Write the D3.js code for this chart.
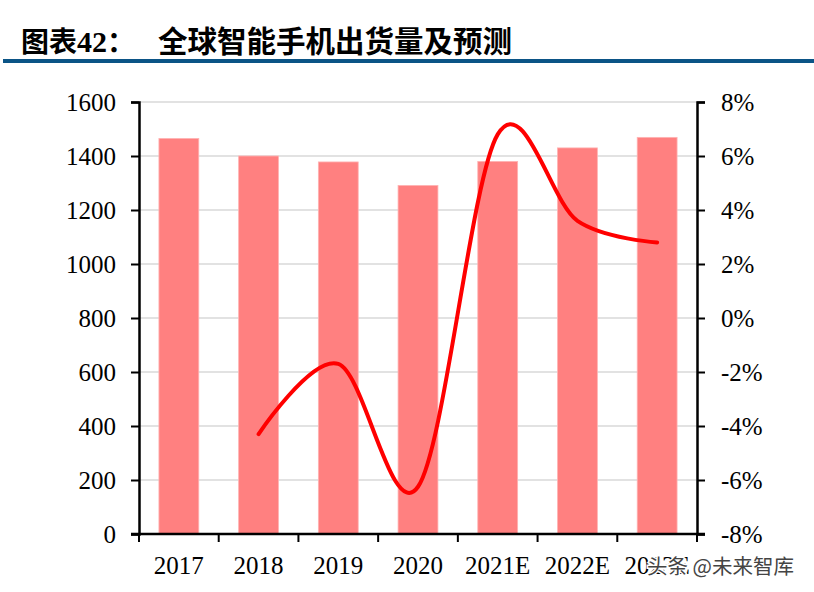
<!DOCTYPE html>
<meta charset="utf-8">
<style>
  body { margin: 0; background: #fff; }
  .tick text { font-family: "Liberation Serif", "Times New Roman", serif; font-size: 25px; fill: #000; }
</style>
<script src="https://cdn.jsdelivr.net/npm/d3@7"></script>
<div id="chart"></div>
<script>
// data
var years = ["2017", "2018", "2019", "2020", "2021E", "2022E", "2023E"];
var shipments = [1465, 1400, 1378, 1291, 1380, 1430, 1469];
var growthYears = ["2018", "2019", "2020", "2021E", "2022E", "2023E"];
var growth = [-4.3, -1.7, -6.25, 6.8, 3.6, 2.8];
var leftTicks = [0, 200, 400, 600, 800, 1000, 1200, 1400, 1600];
var rightTicks = [-8, -6, -4, -2, 0, 2, 4, 6, 8];

var W = 814, H = 592;
var plotL = 139, plotR = 697, plotT = 102, plotB = 534;

var svg = d3.select("#chart").append("svg")
    .attr("width", W).attr("height", H);

// title
var title = svg.append("text")
    .attr("x", 21).attr("y", 52)
    .style("font-family", "'Noto Sans CJK SC', sans-serif")
    .style("font-weight", 700)
    .style("font-size", "28px");
title.append("tspan").text("图表");
title.append("tspan").text("42").style("font-family", "'Liberation Serif', serif").style("font-size", "30px");
title.append("tspan").text("：");
title.append("tspan").attr("x", 158).style("font-size", "29.5px").text("全球智能手机出货量及预测");

svg.append("rect")
    .attr("x", 3).attr("y", 59).attr("width", W - 3).attr("height", 4)
    .attr("fill", "#0b5486");

var x = d3.scaleBand().domain(years).range([plotL, plotR]).paddingInner(0.5).paddingOuter(0.25);
var xb = d3.scaleBand().domain(years).range([plotL, plotR]);
var y = d3.scaleLinear().domain([0, 1600]).range([plotB, plotT]);
var y2 = d3.scaleLinear().domain([-8, 8]).range([plotB, plotT]);

// gridlines
svg.append("g").selectAll("line")
  .data(leftTicks.slice(1))
  .enter().append("line")
    .attr("x1", plotL).attr("x2", plotR)
    .attr("y1", function(d) { return y(d); })
    .attr("y2", function(d) { return y(d); })
    .attr("stroke", "#d9d9d9").attr("stroke-width", 1.5);

// bars
svg.append("g").selectAll("rect")
  .data(shipments)
  .enter().append("rect")
    .attr("x", function(d, i) { return x(years[i]); })
    .attr("y", function(d) { return y(d); })
    .attr("width", x.bandwidth())
    .attr("height", function(d) { return y(0) - y(d); })
    .attr("fill", "#ff8080")
    .attr("stroke", "#ffb3b3").attr("stroke-width", 0.8);

// axes
var axL = svg.append("g")
    .attr("transform", "translate(" + plotL + ",0)")
    .call(d3.axisLeft(y).tickValues(leftTicks).tickSize(8).tickPadding(15).tickFormat(d3.format("d")));
var axR = svg.append("g")
    .attr("transform", "translate(" + plotR + ",0)")
    .call(d3.axisRight(y2).tickValues(rightTicks).tickSize(8).tickPadding(16)
      .tickFormat(function(d) { return d + "%"; }));
var axB = svg.append("g")
    .attr("transform", "translate(0," + plotB + ")")
    .call(d3.axisBottom(x).tickSize(0).tickPadding(22));
axB.selectAll("line").remove();
axB.select(".domain").attr("d", "M" + (plotL - 8) + ",0H" + (plotR + 8));
// category boundary ticks
axB.selectAll(".bt")
  .data(years.concat(["end"]))
  .enter().append("line")
    .attr("x1", function(d, i) { return i < years.length ? xb(d) : plotR; })
    .attr("x2", function(d, i) { return i < years.length ? xb(d) : plotR; })
    .attr("y1", 0).attr("y2", 8)
    .attr("stroke", "#000").attr("stroke-width", 2);

[axL, axR, axB].forEach(function(a) {
  a.select(".domain").attr("stroke", "#000").attr("stroke-width", 2.5);
  a.selectAll(".tick line").attr("stroke", "#000").attr("stroke-width", 2);
});
axL.selectAll(".tick text").attr("dy", "0.33em");
axR.selectAll(".tick text").attr("dy", "0.33em");
axB.selectAll(".tick text").attr("dy", "0.71em");

// growth line
var line = d3.line()
    .x(function(d, i) { return x(growthYears[i]) + x.bandwidth() / 2; })
    .y(function(d) { return y2(d); })
    .curve(d3.curveCardinal.tension(0));
svg.append("path")
    .datum(growth)
    .attr("d", line)
    .attr("fill", "none")
    .attr("stroke", "#ff0000")
    .attr("stroke-width", 4)
    .attr("stroke-linecap", "round");

// watermark
svg.append("text")
    .attr("x", 647).attr("y", 574)
    .style("font-family", "'Noto Sans CJK SC', sans-serif")
    .style("font-size", "20.5px")
    .attr("fill", "#444")
    .attr("stroke", "#fff").attr("stroke-width", 3)
    .attr("paint-order", "stroke")
    .text("头条 @未来智库");
</script>
